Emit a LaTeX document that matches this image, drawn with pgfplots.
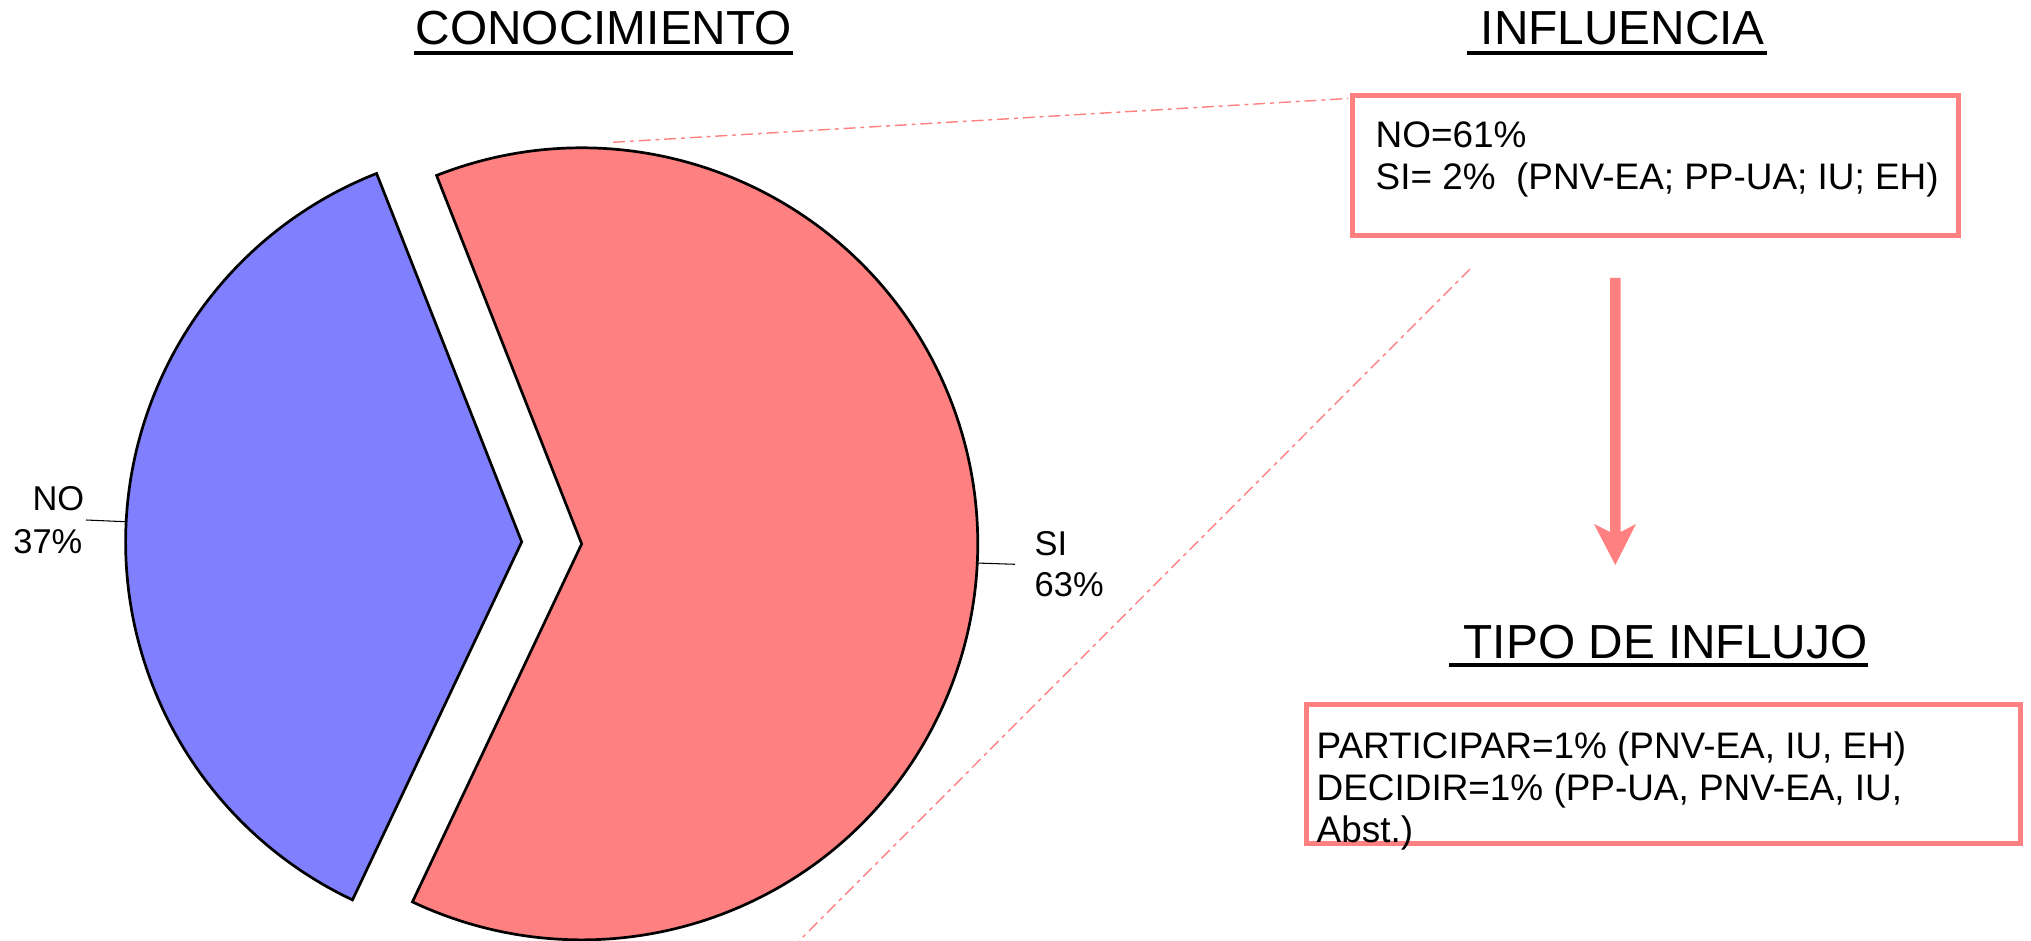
\documentclass[border=0pt]{standalone}
\usepackage{fontspec}
\setmainfont{Liberation Sans}
\usepackage{pgfplots}
\usepackage{pgfplotstable}
\pgfplotsset{compat=1.18}
\definecolor{pieblue}{HTML}{8080FF}
\definecolor{piered}{HTML}{FF8080}
\pgfplotstableread{
label value
SI 63
NO 37
}\piedata
\begin{document}
\begin{tikzpicture}
\pgfplotstablegetelem{0}{value}\of\piedata\edef\vSI{\pgfplotsretval}
\pgfplotstablegetelem{1}{value}\of\piedata\edef\vNO{\pgfplotsretval}
\pgfmathsetmacro\startang{111.5}
\pgfmathsetmacro\endSI{\startang-3.6*\vSI}
\pgfmathsetmacro\endNO{\startang+3.6*\vNO}
\pgfmathsetmacro\bisSI{\startang-1.8*\vSI}
\pgfmathsetmacro\bisNO{\startang+1.8*\vNO}
\begin{axis}[scale only axis, width=20.31cm, height=9.41cm,
  xmin=0, xmax=2031, ymin=0, ymax=941, y dir=reverse,
  hide axis, clip=false]
\path (axis cs:0,0) rectangle (axis cs:2031,941);
% pie slices (exploded)
\filldraw[fill=pieblue, draw=black, line width=0.77pt, line join=miter]
  (axis cs:551.7,542.9) ++(\bisNO:0.30cm) -- ++(\startang:3.96cm)
  arc[start angle=\startang, end angle=\endNO, radius=3.96cm] -- cycle;
\filldraw[fill=piered, draw=black, line width=0.77pt, line join=miter]
  (axis cs:551.7,542.9) ++(\bisSI:0.30cm) -- ++(\startang:3.96cm)
  arc[start angle=\startang, end angle=\endSI, radius=3.96cm] -- cycle;
% leader lines and labels
\draw[black, line width=0.3pt] (axis cs:86,520) -- (axis cs:125,521.7);
\draw[black, line width=0.3pt] (axis cs:976,563) -- (axis cs:1015,564.3);
\node[anchor=base east, inner sep=0, font=\fontsize{9.8}{12}\selectfont] at (axis cs:85,511) {NO};
\node[anchor=base east, inner sep=0, font=\fontsize{9.8}{12}\selectfont] at (axis cs:83,553) {\vNO\%};
\node[anchor=base west, inner sep=0, font=\fontsize{9.8}{12}\selectfont] at (axis cs:1034,555) {SI};
\node[anchor=base west, inner sep=0, font=\fontsize{9.8}{12}\selectfont] at (axis cs:1034,597) {\vSI\%};
% dashed connector lines
\draw[piered, line width=0.4pt, dash pattern=on 3.4pt off 1.4pt on 1.1pt off 1.4pt] (axis cs:613,142.3) -- (axis cs:1348,98.5);
\draw[piered, line width=0.4pt, dash pattern=on 3.4pt off 1.4pt on 1.1pt off 1.4pt] (axis cs:1470,269) -- (axis cs:799,941);
% titles
\node[anchor=base west, inner sep=0, font=\fontsize{13.6}{16}\selectfont] at (axis cs:415,45) {CONOCIMIENTO};
\draw[black, line width=1pt] (axis cs:414,53) -- (axis cs:793,53);
\node[anchor=base west, inner sep=0, font=\fontsize{13.6}{16}\selectfont] at (axis cs:1480,45) {INFLUENCIA};
\draw[black, line width=1pt] (axis cs:1467,53) -- (axis cs:1767,53);
\node[anchor=base west, inner sep=0, font=\fontsize{13.6}{16}\selectfont] at (axis cs:1463,658) {TIPO DE INFLUJO};
\draw[black, line width=1pt] (axis cs:1449,665) -- (axis cs:1868,665);
% box 1
\draw[piered, line width=1.42pt] (axis cs:1352.5,95.8) rectangle (axis cs:1958.2,235.8);
\node[anchor=base west, inner sep=0, font=\fontsize{10.5}{12}\selectfont] at (axis cs:1375,148) {NO=61\%};
\node[anchor=base west, inner sep=0, font=\fontsize{10.5}{12}\selectfont] at (axis cs:1375,190) {SI= 2\%\ \ (PNV-EA; PP-UA; IU; EH)};
% arrow
\fill[piered] (axis cs:1610,278) -- (axis cs:1620.7,278) -- (axis cs:1620.7,532) -- (axis cs:1636,524)
  -- (axis cs:1615.3,565) -- (axis cs:1594,524) -- (axis cs:1610,532) -- cycle;
% box 2
\draw[piered, line width=1.42pt] (axis cs:1306.5,704.2) rectangle (axis cs:2020,843.5);
\node[anchor=base west, inner sep=0, font=\fontsize{10.5}{12}\selectfont] at (axis cs:1316,758) {PARTICIPAR=1\% (PNV-EA, IU, EH)};
\node[anchor=base west, inner sep=0, font=\fontsize{10.5}{12}\selectfont] at (axis cs:1316,800) {DECIDIR=1\% (PP-UA, PNV-EA, IU,};
\node[anchor=base west, inner sep=0, font=\fontsize{10.5}{12}\selectfont] at (axis cs:1316,842) {Abst.)};
\end{axis}
\pgfresetboundingbox
\path (current axis.south west) rectangle (current axis.north east);
\end{tikzpicture}
\end{document}
